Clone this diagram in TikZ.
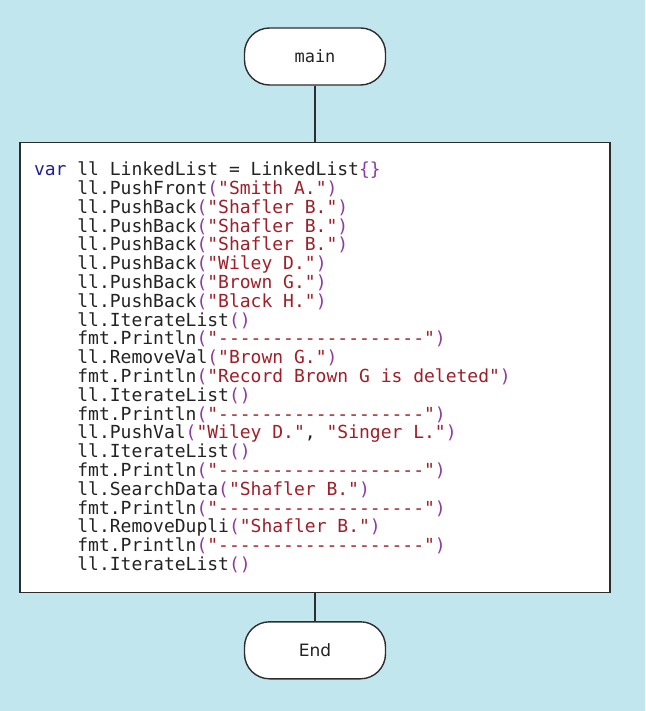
\documentclass[tikz,border=0pt]{standalone}
\usepackage{fontspec}
\setmainfont{DejaVu Sans}
\setmonofont{DejaVu Sans Mono}
\usetikzlibrary{positioning}

\definecolor{bgblue}{RGB}{194,230,238}
\definecolor{kwblue}{RGB}{32,32,150}
\definecolor{strred}{RGB}{160,30,40}
\definecolor{parpurple}{RGB}{140,60,160}
\definecolor{codegray}{RGB}{35,35,35}
\definecolor{linegray}{RGB}{45,45,45}

\newcommand{\codefont}{\ttfamily\fontsize{18}{18.8}\selectfont}
\newcommand{\monospaces}{\spaceskip 0.602em\relax\xspaceskip 0.602em\relax}
\newcommand{\codekw}[1]{\textcolor{kwblue}{#1}}
\newcommand{\codestr}[1]{\textcolor{strred}{#1}}
\newcommand{\codepar}[1]{\textcolor{parpurple}{#1}}
\newcommand{\ind}{\hphantom{xxxx}}
\newcommand{\llcall}[2]{\ind ll.#1\codepar{(}#2\codepar{)}}
\newcommand{\fmtcall}[1]{\ind fmt.Println\codepar{(}\codestr{#1}\codepar{)}}

\begin{document}
\begin{tikzpicture}[
    x=1pt, y=1pt,
    line width=1.4pt,
    terminal/.style={rectangle, rounded corners=25pt, draw=linegray, fill=white,
        minimum width=141pt, minimum height=57pt, text=codegray},
    codebox/.style={rectangle, draw=linegray, fill=white, align=left,
        text width=562pt, inner xsep=14pt, minimum height=450pt, text=codegray,
        font=\codefont}
]

    % Background -------------------------------------------------

    \fill[bgblue] (0,0) rectangle (645,-711);
    \useasboundingbox (0,0) rectangle (645,-711);

    % Nodes ------------------------------------------------------

    \node[terminal, font=\ttfamily\fontsize{17}{17}\selectfont] (main) at (315,-56.5) {main};

    \node[codebox, below=56pt of main] (body) {\monospaces
        \codekw{var} ll LinkedList = LinkedList\codepar{\{\}}\\
        \llcall{PushFront}{\codestr{"Smith A."}}\\
        \llcall{PushBack}{\codestr{"Shafler B."}}\\
        \llcall{PushBack}{\codestr{"Shafler B."}}\\
        \llcall{PushBack}{\codestr{"Shafler B."}}\\
        \llcall{PushBack}{\codestr{"Wiley D."}}\\
        \llcall{PushBack}{\codestr{"Brown G."}}\\
        \llcall{PushBack}{\codestr{"Black H."}}\\
        \llcall{IterateList}{}\\
        \fmtcall{"-------------------"}\\
        \llcall{RemoveVal}{\codestr{"Brown G."}}\\
        \fmtcall{"Record Brown G is deleted"}\\
        \llcall{IterateList}{}\\
        \fmtcall{"-------------------"}\\
        \llcall{PushVal}{\codestr{"Wiley D."}, \codestr{"Singer L."}}\\
        \llcall{IterateList}{}\\
        \fmtcall{"-------------------"}\\
        \llcall{SearchData}{\codestr{"Shafler B."}}\\
        \fmtcall{"-------------------"}\\
        \llcall{RemoveDupli}{\codestr{"Shafler B."}}\\
        \fmtcall{"-------------------"}\\
        \llcall{IterateList}{}};

    \node[terminal, below=28pt of body, font=\fontsize{17}{17}\selectfont] (end) {End};

    % Lines ------------------------------------------------------

    \draw[linegray] (main) -- (body);
    \draw[linegray] (body) -- (end);

\end{tikzpicture}
\end{document}
